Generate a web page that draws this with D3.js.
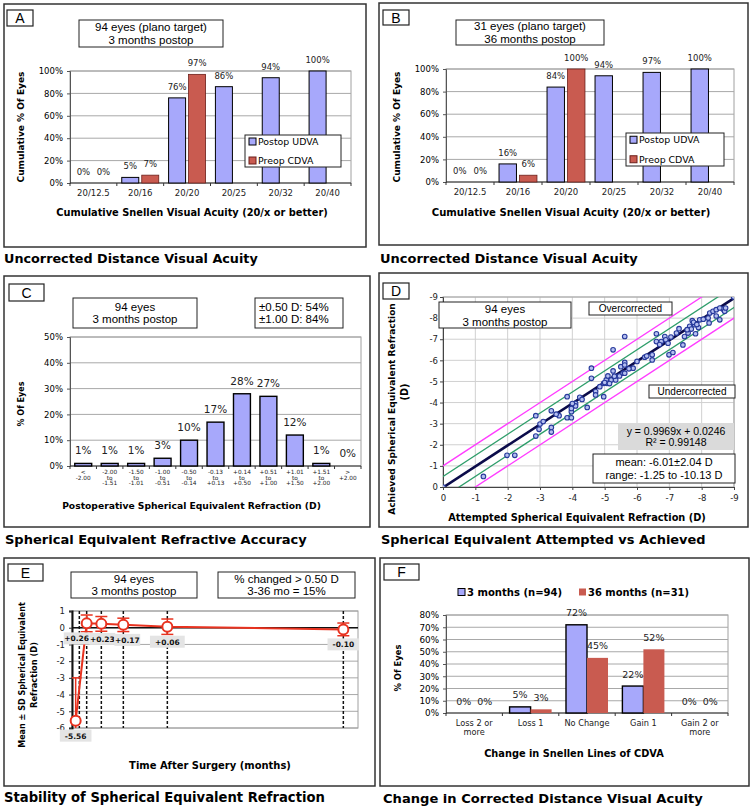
<!DOCTYPE html>
<html><head><meta charset="utf-8">
<script src="https://cdn.jsdelivr.net/npm/d3@7"></script>
<style>body{margin:0;background:#fff}svg{display:block}</style>
</head><body><svg id="c" width="753" height="807"></svg>
<script>
// ---------------- DATA ----------------
const snellenCats = ["20/12.5","20/16","20/20","20/25","20/32","20/40"];
const snellenTicks = [0,20,40,60,80,100];
const aUDVA = [0,5,76,86,94,100];
const aCDVA = [0,7,97,null,null,null];
const bUDVA = [0,16,84,94,97,100];
const bCDVA = [0,6,100,null,null,null];
const seriesNamesAB = ["Postop UDVA","Preop CDVA"];

const cCats = ["< -2.00","-2.00 to -1.51","-1.50 to -1.01","-1.00 to -0.51","-0.50 to -0.14","-0.13 to +0.13","+0.14 to +0.50","+0.51 to +1.00","+1.01 to +1.50","+1.51 to +2.00","> +2.00"];
const cVals = [1,1,1,3,10,17,28,27,12,1,0];
const cTicks = [0,10,20,30,40,50];

const dAttempted = [0,-1.25,-1.98,-2.22,-2.87,-2.87,-2.97,-3.0,-3.1,-3.35,-3.35,-3.35,-3.59,-3.84,-3.84,-3.97,-3.97,-3.97,-4.1,-4.1,-4.23,-4.46,-4.59,-4.59,-4.72,-4.72,-4.97,-4.97,-5.05,-5.07,-5.1,-5.2,-5.26,-5.26,-5.34,-5.46,-5.5,-5.57,-5.62,-5.62,-5.62,-5.62,-5.88,-6.24,-6.47,-6.47,-6.6,-6.6,-6.75,-6.86,-6.89,-6.96,-6.99,-7.11,-7.22,-7.42,-7.47,-7.58,-7.63,-7.68,-7.71,-7.78,-7.81,-7.94,-8.2,-8.23,-8.25,-8.35,-8.45,-8.56,-8.66,-8.71,-8.74,-8.99,-8.56,-3.5,-4.0,-4.3,-5.0,-5.3,-5.75,-6.0,-6.3,-6.7,-7.05,-7.3,-7.55,-7.75,-7.9,-8.05,-8.45,-4.85,-5.15,-7.85];
const dAchieved  = [0,-0.5,-1.5,-1.5,-3.38,-2.41,-2.73,-2.98,-3.1,-3.61,-2.82,-2.6,-3.38,-4.28,-3.28,-3.28,-3.57,-3.72,-3.96,-3.84,-4.25,-3.77,-5.63,-5.15,-4.52,-4.36,-4.28,-4.91,-5.07,-4.91,-5.26,-5.07,-6.5,-5.5,-5.07,-5.26,-5.7,-5.39,-7.13,-5.9,-5.78,-5.39,-5.63,-6.15,-6.26,-6.02,-7.26,-6.89,-6.89,-7.13,-6.97,-6.81,-6.26,-6.37,-7.29,-6.73,-7.13,-7.29,-7.61,-7.48,-7.88,-7.69,-7.26,-7.92,-8.0,-7.77,-8.24,-8.32,-8.4,-7.92,-8.43,-8.32,-8.48,-9.0,-8.48,-3.45,-3.95,-4.15,-4.95,-5.25,-5.6,-5.95,-6.2,-6.75,-7.1,-7.5,-7.45,-7.8,-7.55,-7.95,-8.1,-4.75,-4.9,-7.7];
const dTicks = [0,-1,-2,-3,-4,-5,-6,-7,-8,-9];
const dFitSlope = 0.9969, dFitIntercept = 0.0246;
const dBandOffsets = [-1,-0.5,0.5,1];

const eTime = [-0.5,1,3,6,12,36];
const eMean = [-5.56,0.26,0.23,0.17,0.06,-0.10];
const eSD = [2.56,0.5,0.44,0.4,0.46,0.38];
const eLabels = ["-5.56","+0.26","+0.23","+0.17","+0.06","-0.10"];
const eVisits = [0,1,3,6,12,36];
const eTicks = [1,0,-1,-2,-3,-4,-5,-6];

const fCats = [["Loss 2 or","more"],["Loss 1"],["No Change"],["Gain 1"],["Gain 2 or","more"]];
const f3mo = [0,5,72,22,0];
const f36mo = [0,3,45,52,0];
const fTicks = [0,10,20,30,40,50,60,70,80];
const fSeriesNames = ["3 months (n=94)","36 months (n=31)"];

// ---------------- HELPERS ----------------
const svg = d3.select("#c");
svg.append("rect").attr("width",753).attr("height",807).attr("fill","#fff");
const VER = "'DejaVu Sans', Verdana, sans-serif";
const ARI = "'Liberation Sans', Arial, sans-serif";
const BLUE = "#a7a8fb", RED = "#c95b50";

function fit(t, w){ const l=t.node().getComputedTextLength(); if(l>0) t.attr("font-size", parseFloat(t.attr("font-size"))*w/l); return t; }
function txt(x,y,s,o={}){
  const t = svg.append("text").attr("x",x).attr("y",y).text(s)
    .attr("font-family",o.ff||VER).attr("font-size",o.fs||9)
    .attr("font-weight",o.fw||"normal").attr("text-anchor",o.anchor||"start").attr("fill",o.fill||"#000");
  if(o.rot) t.attr("transform",`rotate(${o.rot},${x},${y})`);
  if(o.w) fit(t,o.w);
  return t;
}
function rect(x0,y0,x1,y1,o={}){
  return svg.append("rect").attr("x",x0).attr("y",y0).attr("width",x1-x0).attr("height",y1-y0)
    .attr("fill",o.fill||"#fff").attr("stroke",o.stroke||"#222").attr("stroke-width",o.sw==null?1:o.sw);
}
function panelBox(x0,y0,x1,y1){ rect(x0,y0,x1,y1,{stroke:"#333",sw:1.5}); }
function labelBox(l,x0,y0,x1,y1){ rect(x0,y0,x1,y1,{sw:1.2}); txt((x0+x1)/2,(y0+y1)/2+5,l,{ff:ARI,fs:14,anchor:"middle"}); }
function infoBox(lines,x0,y0,x1,y1,o={}){
  rect(x0,y0,x1,y1,{fill:o.fill||"#fff",stroke:o.stroke||"#222",sw:o.sw==null?1:o.sw});
  const fs=o.fs||11.5, ls=o.ls||12.5, mid=(y0+y1)/2;
  lines.forEach((s,i)=>{
    const cy = mid-(lines.length-1)*ls/2+i*ls;
    const left = o.left!=null;
    txt(left?o.left:(x0+x1)/2, cy+fs*0.36, s, {ff:ARI,fs,anchor:left?"start":"middle"});
  });
}

function barChart(o){
  const n=o.cats.length;
  const x=d3.scaleBand().domain(d3.range(n)).range([o.x0,o.x1]);
  const y=d3.scaleLinear().domain([0,o.ymax]).range([o.y1,o.y0]);
  const g=svg.append("g");
  g.append("rect").attr("x",o.x0).attr("y",o.y0).attr("width",o.x1-o.x0).attr("height",o.y1-o.y0).attr("fill","none").attr("stroke","#a0a0a0");
  g.selectAll(null).data(o.ticks.filter(t=>t>0)).join("line")
    .attr("x1",o.x0).attr("x2",o.x1).attr("y1",d=>y(d)).attr("y2",d=>y(d)).attr("stroke","#a8a8a8");
  const ya=g.append("g").attr("transform",`translate(${o.x0},0)`)
    .call(d3.axisLeft(y).tickValues(o.ticks).tickFormat(d=>d+"%").tickSize(3).tickPadding(o.tp||4));
  ya.select(".domain").attr("stroke","#555");
  ya.selectAll("line").attr("stroke","#555");
  ya.selectAll("text").attr("font-family",VER).attr("font-size",o.tickFs);
  g.append("line").attr("x1",o.x0).attr("x2",o.x1).attr("y1",o.y1).attr("y2",o.y1).attr("stroke","#333");
  g.selectAll(null).data(d3.range(n+1)).join("line")
    .attr("x1",i=>o.x0+i*x.step()).attr("x2",i=>o.x0+i*x.step()).attr("y1",o.y1).attr("y2",o.y1+3).attr("stroke","#333");
  const xa=g.append("g").attr("transform",`translate(0,${o.y1})`)
    .call(d3.axisBottom(x).tickSize(0).tickPadding(0).tickFormat(""));
  xa.select(".domain").remove();
  xa.selectAll(".tick").each(function(i){
    const lines = Array.isArray(o.cats[i])?o.cats[i]:(o.split?o.cats[i].split(" "):[o.cats[i]]);
    const t=d3.select(this).select("text").attr("dy",null).attr("y",o.catY)
      .attr("font-family",VER).attr("font-size",o.catFs).attr("fill","#222");
    lines.forEach((s,k)=>t.append("tspan").attr("x",0).attr("y",o.catY+k*o.catLs).text(s));
  });
  const gw=o.gw, sub=d3.scaleBand().domain(d3.range(o.series.length)).range([0,x.bandwidth()*gw]).paddingInner(o.ip);
  o.series.forEach((s,si)=>{
    const data=s.vals.map((v,i)=>({v,i})).filter(d=>d.v!=null);
    const bx=d=>x(d.i)+x.bandwidth()*(1-gw)/2+sub(si);
    g.selectAll(null).data(data.filter(d=>d.v>0)).join("rect")
      .attr("x",bx).attr("y",d=>y(d.v)).attr("width",sub.bandwidth()).attr("height",d=>y(0)-y(d.v))
      .attr("fill",s.fill).attr("stroke",s.stroke).attr("stroke-width",s.sw);
    g.selectAll(null).data(data).join("text")
      .attr("x",d=>bx(d)+sub.bandwidth()/2).attr("y",d=>y(d.v)-o.lo).attr("text-anchor","middle")
      .attr("font-family",VER).attr("font-size",o.labFs).attr("fill","#222").text(d=>d.v+"%");
  });
  return {x,y};
}
function legendAB(x0,y0,x1,y1){
  rect(x0,y0,x1,y1,{sw:1});
  const fills=[BLUE,RED], strokes=["#000","#6b1f1a"];
  const h=(y1-y0)/2;
  seriesNamesAB.forEach((s,i)=>{
    const cy=y0+h*(i+0.5)+ (i===0?-1.5:1.5);
    svg.append("rect").attr("x",x0+4).attr("y",cy-3.5).attr("width",7).attr("height",7).attr("fill",fills[i]).attr("stroke",strokes[i]).attr("stroke-width",1);
    txt(x0+13,cy+3.5,s,{fs:9.4});
  });
}

// ---------------- PANEL A ----------------
panelBox(4,4,366,247);
labelBox("A",7,10,33,26);
infoBox(["94 eyes (plano target)","3 months postop"],79,20,223,47);
barChart({cats:snellenCats,x0:70,x1:351,y0:71,y1:183,ymax:100,ticks:snellenTicks,tickFs:8.5,catFs:8.5,catY:13,catLs:9,labFs:8.5,lo:8,gw:0.79,ip:0.15,
  series:[{vals:aUDVA,fill:BLUE,stroke:"#000",sw:1},{vals:aCDVA,fill:RED,stroke:"#6b1f1a",sw:0.8}]});
legendAB(245,135,341,167);
txt(192,216,"Cumulative Snellen Visual Acuity (20/x or better)",{fw:"bold",fs:9.5,anchor:"middle",w:272});
txt(23.5,127,"Cumulative % Of Eyes",{fw:"bold",fs:9.5,anchor:"middle",rot:-90,w:111});
txt(4,263,"Uncorrected Distance Visual Acuity",{fw:"bold",fs:13,w:254});

// ---------------- PANEL B ----------------
panelBox(379,3,748,245);
labelBox("B",383,10,409,25);
infoBox(["31 eyes (plano target)","36 months postop"],456,20,604,45);
barChart({cats:snellenCats,x0:446,x1:734,y0:69,y1:182,ymax:100,ticks:snellenTicks,tickFs:8.5,catFs:8.5,catY:13,catLs:9,labFs:8.5,lo:8,gw:0.79,ip:0.15,
  series:[{vals:bUDVA,fill:BLUE,stroke:"#000",sw:1},{vals:bCDVA,fill:RED,stroke:"#6b1f1a",sw:0.8}]});
legendAB(626,133,724,166);
txt(571,216,"Cumulative Snellen Visual Acuity (20/x or better)",{fw:"bold",fs:9.5,anchor:"middle",w:279});
txt(399.5,127,"Cumulative % Of Eyes",{fw:"bold",fs:9.5,anchor:"middle",rot:-90,w:111});
txt(380,263,"Uncorrected Distance Visual Acuity",{fw:"bold",fs:13,w:258});

// ---------------- PANEL C ----------------
panelBox(4,276,370,527);
labelBox("C",9,284,44,301);
infoBox(["94 eyes","3 months postop"],73,298,197,328);
infoBox(["±0.50 D: 54%","±1.00 D: 84%"],255,298,343,328,{left:259});
barChart({cats:cCats,split:true,x0:70,x1:361,y0:337,y1:466,ymax:50,ticks:cTicks,tickFs:8.5,catFs:5.8,catY:8,catLs:5.5,labFs:10.5,lo:9,gw:0.64,ip:0,
  series:[{vals:cVals,fill:BLUE,stroke:"#000",sw:1.4}]});
txt(191.5,509,"Postoperative Spherical Equivalent Refraction (D)",{fw:"bold",fs:9.5,anchor:"middle",w:259});
txt(23.5,404,"% Of Eyes",{fw:"bold",fs:9.5,anchor:"middle",rot:-90,w:45});
txt(5,544,"Spherical Equivalent Refractive Accuracy",{fw:"bold",fs:13,w:302});

// ---------------- PANEL D ----------------
panelBox(379,273,748,527);
labelBox("D",383,283,409,299);
(function(){
  const x0=443,x1=734,y0=297,y1=487;
  const x=d3.scaleLinear().domain([0,-9]).range([x0,x1]);
  const y=d3.scaleLinear().domain([0,-9]).range([y1,y0]);
  const g=svg.append("g");
  g.selectAll(null).data(dTicks.slice(1)).join("line").attr("x1",d=>x(d)).attr("x2",d=>x(d)).attr("y1",y0).attr("y2",y1).attr("stroke","#d0d0d0");
  g.selectAll(null).data(dTicks.slice(1)).join("line").attr("y1",d=>y(d)).attr("y2",d=>y(d)).attr("x1",x0).attr("x2",x1).attr("stroke","#d0d0d0");
  g.append("rect").attr("x",x0).attr("y",y0).attr("width",x1-x0).attr("height",y1-y0).attr("fill","none").attr("stroke","#a0a0a0");
  const ya=g.append("g").attr("transform",`translate(${x0},0)`).call(d3.axisLeft(y).tickValues(dTicks).tickFormat(d3.format("d")).tickSize(3).tickPadding(2));
  const xa=g.append("g").attr("transform",`translate(0,${y1})`).call(d3.axisBottom(x).tickValues(dTicks).tickFormat(d3.format("d")).tickSize(3).tickPadding(5));
  [ya,xa].forEach(a=>{a.select(".domain").attr("stroke","#444");a.selectAll("line").attr("stroke","#444");
    a.selectAll("text").attr("font-family",VER).attr("font-size",8.5).attr("fill","#222").text(function(){return this.textContent.replace("−","-");});});
  svg.append("clipPath").attr("id","dclip").append("rect").attr("x",x0).attr("y",y0).attr("width",x1-x0).attr("height",y1-y0);
  const cg=g.append("g").attr("clip-path","url(#dclip)");
  const line=d3.line().x(d=>x(d[0])).y(d=>y(d[1]));
  dBandOffsets.forEach(off=>{
    cg.append("path").attr("d",line([[1,1+off],[-10,-10+off]])).attr("fill","none")
      .attr("stroke",Math.abs(off)===1?"#ff3cff":"#2e9e6a").attr("stroke-width",1.3);
  });
  cg.append("path").attr("d",line([[0,dFitIntercept],[-9,-9*dFitSlope+dFitIntercept]])).attr("fill","none").attr("stroke","#0b0b4a").attr("stroke-width",2.6);
  cg.selectAll(null).data(dAttempted.map((a,i)=>[a,dAchieved[i]])).join("circle")
    .attr("cx",d=>x(d[0])).attr("cy",d=>y(d[1])).attr("r",2.3).attr("fill","#b5bff0").attr("stroke","#283a9c").attr("stroke-width",1.1);
})();
infoBox(["94 eyes","3 months postop"],439,302,571,328,{ls:13});
infoBox(["Overcorrected"],589,302,672,315,{fs:10});
infoBox(["Undercorrected"],649,385,735,398,{fs:10});
infoBox(["y = 0.9969x + 0.0246","R² = 0.99148"],618,423,734,450,{fill:"#dadada",sw:0,stroke:"none",fs:10.5,ls:10.5});
infoBox(["mean: -6.01±2.04 D","range: -1.25 to -10.13 D"],593,454,735,483,{fs:11,ls:13.5});
txt(577,521,"Attempted Spherical Equivalent Refraction (D)",{fw:"bold",fs:9.5,anchor:"middle",w:258});
txt(395,409,"Achieved Spherical Equivalent Refraction",{fw:"bold",fs:9.5,anchor:"middle",rot:-90,w:212});
txt(408,392,"(D)",{fw:"bold",fs:9.8,anchor:"middle",rot:-90});
txt(381,544,"Spherical Equivalent Attempted vs Achieved",{fw:"bold",fs:13,w:325});

// ---------------- PANEL E ----------------
panelBox(4,558,375,786);
labelBox("E",8,564,43,581);
infoBox(["94 eyes","3 months postop"],71,572,197,598,{ls:11.5});
infoBox(["% changed > 0.50 D","3-36 mo = 15%"],218,572,355,598,{ls:11.5});
(function(){
  const x0=72,x1=358;
  const x=d3.scaleLinear().domain([-1,38]).range([x0,x1]);
  const y=d3.scaleLinear().domain([-6,1]).range([728,611]);
  const y0=y(1), y1=y(-6);
  const g=svg.append("g");
  g.selectAll(null).data(eTicks).join("line").attr("x1",x0).attr("x2",x1).attr("y1",d=>y(d)).attr("y2",d=>y(d)).attr("stroke","#a8a8a8");
  g.append("rect").attr("x",x0).attr("y",y0).attr("width",x1-x0).attr("height",y1-y0).attr("fill","none").attr("stroke","#a0a0a0");
  g.append("line").attr("x1",x0).attr("x2",x1).attr("y1",y(0)).attr("y2",y(0)).attr("stroke","#111").attr("stroke-width",1.6);
  g.selectAll(null).data(eVisits).join("line").attr("x1",d=>x(d)).attr("x2",d=>x(d)).attr("y1",y0).attr("y2",y1)
    .attr("stroke","#111").attr("stroke-width",1.5).attr("stroke-dasharray","3,2");
  const ya=g.append("g").attr("transform",`translate(${x0},0)`).call(d3.axisLeft(y).tickValues(eTicks).tickFormat(d3.format("d")).tickSize(3).tickPadding(4));
  ya.select(".domain").attr("stroke","#111").attr("stroke-width",2);
  ya.selectAll("line").attr("stroke","#333");
  ya.selectAll("text").attr("font-family",VER).attr("font-size",8.5).attr("fill","#222").text(function(){return this.textContent.replace("−","-");});
  svg.append("clipPath").attr("id","eclip").append("rect").attr("x",x0).attr("y",y0-6).attr("width",x1-x0).attr("height",y1-y0+6);
  const RE="#e8321f";
  const cg=g.append("g").attr("clip-path","url(#eclip)");
  const pts=eTime.map((t,i)=>({t,m:eMean[i],s:eSD[i],l:eLabels[i]}));
  pts.forEach(p=>{
    cg.append("line").attr("x1",x(p.t)).attr("x2",x(p.t)).attr("y1",y(p.m+p.s)).attr("y2",y(p.m-p.s)).attr("stroke",RE).attr("stroke-width",1.5);
    [p.m+p.s,p.m-p.s].forEach(v=>cg.append("line").attr("x1",x(p.t)-6).attr("x2",x(p.t)+6).attr("y1",y(v)).attr("y2",y(v)).attr("stroke",RE).attr("stroke-width",1.5));
  });
  g.append("path").attr("d",d3.line().x(d=>x(d.t)).y(d=>y(d.m))(pts)).attr("fill","none").attr("stroke",RE).attr("stroke-width",2);
  g.selectAll(null).data(pts).join("circle").attr("cx",d=>x(d.t)).attr("cy",d=>y(d.m)).attr("r",5).attr("fill","#fff").attr("stroke",RE).attr("stroke-width",2);
  // label nudges so the crowded early labels stay legible
  const nudge=[0,-10,1,4,0,0];
  pts.forEach((p,i)=>{
    const cx=x(p.t)+nudge[i], cy=y(p.m)+15;
    const r=g.append("rect").attr("y",cy-6).attr("height",12).attr("fill","#e4e4e4");
    const t=g.append("text").attr("x",cx).attr("y",cy+3).attr("text-anchor","middle").attr("font-family",VER).attr("font-weight","bold").attr("font-size",7.5).attr("fill","#111").text(p.l);
    const w=t.node().getComputedTextLength()+(i>=1&&i<=3?1:10);
    r.attr("x",cx-w/2).attr("width",w);
  });
})();
txt(210,769,"Time After Surgery (months)",{fw:"bold",fs:9.5,anchor:"middle",w:162});
txt(24.5,675,"Mean ± SD Spherical Equivalent",{fw:"bold",fs:9.5,anchor:"middle",rot:-90,w:146});
txt(37,675,"Refraction (D)",{fw:"bold",fs:9.5,anchor:"middle",rot:-90,w:66});
txt(4,802,"Stability of Spherical Equivalent Refraction",{fw:"bold",fs:13,w:321});

// ---------------- PANEL F ----------------
panelBox(380,558,749,786);
labelBox("F",384,564,419,580);
barChart({cats:fCats,x0:446,x1:728,y0:615,y1:713,ymax:80,ticks:fTicks,tickFs:8.8,catFs:8.2,catY:13,catLs:9,labFs:9.5,lo:8.5,gw:0.745,ip:0,tp:4,
  series:[{vals:f3mo,fill:BLUE,stroke:"#000",sw:1.4},{vals:f36mo,fill:RED,stroke:"none",sw:0}]});
svg.append("rect").attr("x",458).attr("y",588.5).attr("width",7).attr("height",7).attr("fill",BLUE).attr("stroke","#000").attr("stroke-width",1);
txt(467,596,fSeriesNames[0],{fw:"bold",fs:9.4,w:95});
svg.append("rect").attr("x",579).attr("y",588.5).attr("width",7).attr("height",7).attr("fill",RED);
txt(588,596,fSeriesNames[1],{fw:"bold",fs:9.4,w:101});
txt(574,757,"Change in Snellen Lines of CDVA",{fw:"bold",fs:9.5,anchor:"middle",w:180});
txt(400.5,668,"% Of Eyes",{fw:"bold",fs:9.5,anchor:"middle",rot:-90,w:47});
txt(383,803,"Change in Corrected Distance Visual Acuity",{fw:"bold",fs:13,w:320});
</script></body></html>
